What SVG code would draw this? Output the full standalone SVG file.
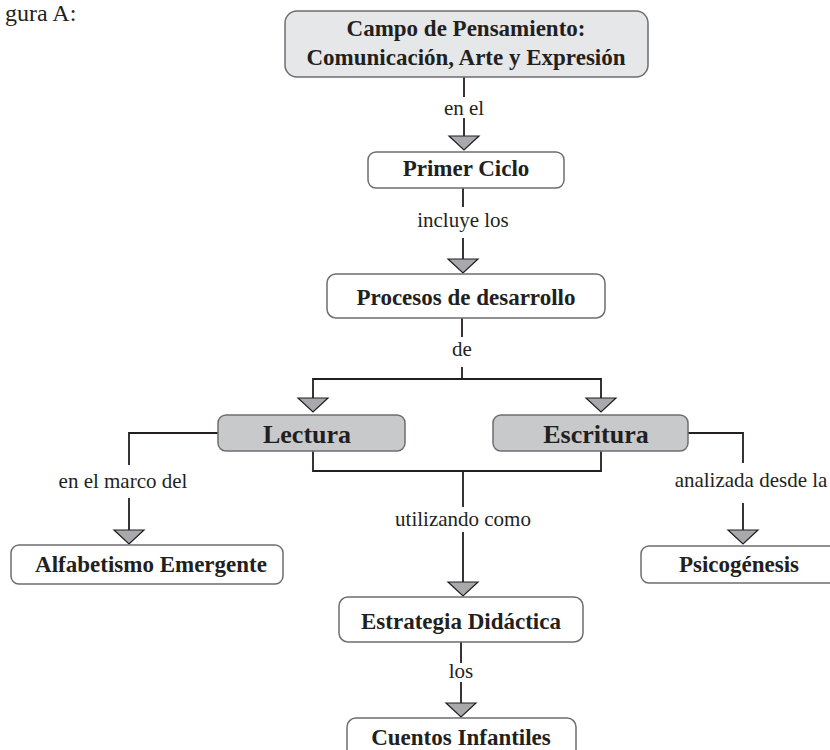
<svg xmlns="http://www.w3.org/2000/svg" width="830" height="750" viewBox="0 0 830 750">
<defs>
<style>
.box{fill:#ffffff;stroke:#6d6e71;stroke-width:1.5}
.top{fill:#e6e7e8;stroke:#6d6e71;stroke-width:1.5}
.dark{fill:#c8c9cb;stroke:#6d6e71;stroke-width:1.5}
.t{font-family:"Liberation Serif","Times New Roman",serif;font-weight:bold;font-size:23px;fill:#231f20;text-anchor:middle}
.big{font-size:26px}
.lbl{font-family:"Liberation Serif","Times New Roman",serif;font-size:21px;fill:#231f20;text-anchor:middle}
.ln{fill:none;stroke:#231f20;stroke-width:1.8}
</style>
<path id="arr" d="M-15,0 L15,0 L0,14 Z" fill="#a7a9ac" stroke="#231f20" stroke-width="1.2"/>
</defs>
<rect width="830" height="750" fill="#ffffff"/>
<text x="5" y="21" font-family="'Liberation Serif','Times New Roman',serif" font-size="24" fill="#231f20">gura A:</text>

<g id="connectors">
<path class="ln" d="M464,77 V97 M464,118 V136"/>
<path class="ln" d="M463,188 V207 M463,238 V259"/>
<path class="ln" d="M462,318 V337 M462,367 V379 M313,398 V379 H601 V398"/>
<path class="ln" d="M218,433 H129 V465 M129,498 V530"/>
<path class="ln" d="M313,451 V471 H601 V451 M463,471 V507 M463,532 V582"/>
<path class="ln" d="M688,433 H743 V463 M743,503 V530"/>
<path class="ln" d="M461,642 V663 M461,682 V703"/>
<use href="#arr" x="464" y="136"/>
<use href="#arr" x="463" y="259"/>
<use href="#arr" x="313" y="398"/>
<use href="#arr" x="601" y="398"/>
<use href="#arr" x="129" y="530"/>
<use href="#arr" x="743" y="530"/>
<use href="#arr" x="463" y="582"/>
<use href="#arr" x="461" y="703"/>
<text class="lbl" x="464" y="115">en el</text>
<text class="lbl" x="463" y="227">incluye los</text>
<text class="lbl" x="462" y="356">de</text>
<text class="lbl" x="123" y="488">en el marco del</text>
<text class="lbl" x="463" y="526">utilizando como</text>
<text class="lbl" x="751" y="487">analizada desde la</text>
<text class="lbl" x="461" y="678">los</text>
</g>

<g id="campo">
<rect class="top" x="285" y="11" width="363" height="66" rx="12"/>
<text class="t" x="466" y="36">Campo de Pensamiento:</text>
<text class="t" x="466" y="65">Comunicación, Arte y Expresión</text>
</g>
<g id="primer">
<rect class="box" x="368" y="152" width="196" height="36" rx="8"/>
<text class="t" x="466" y="176">Primer Ciclo</text>
</g>
<g id="procesos">
<rect class="box" x="327" y="274" width="278" height="44" rx="9"/>
<text class="t" x="466" y="305">Procesos de desarrollo</text>
</g>
<g id="lectura">
<rect class="dark" x="218" y="415" width="187" height="36" rx="8"/>
<text class="t big" x="307" y="443">Lectura</text>
</g>
<g id="escritura">
<rect class="dark" x="493" y="415" width="195" height="36" rx="8"/>
<text class="t big" x="596" y="443">Escritura</text>
</g>
<g id="alfabetismo">
<rect class="box" x="11" y="545" width="272" height="39" rx="8"/>
<text class="t" x="151" y="572">Alfabetismo Emergente</text>
</g>
<g id="psicogenesis">
<rect class="box" x="641" y="546" width="200" height="37" rx="8"/>
<text class="t" x="739" y="572">Psicogénesis</text>
</g>
<g id="estrategia">
<rect class="box" x="339" y="597" width="244" height="45" rx="9"/>
<text class="t" x="461" y="629">Estrategia Didáctica</text>
</g>
<g id="cuentos">
<rect class="box" x="347" y="718" width="229" height="45" rx="9"/>
<text class="t" x="461" y="745">Cuentos Infantiles</text>
</g>
</svg>
